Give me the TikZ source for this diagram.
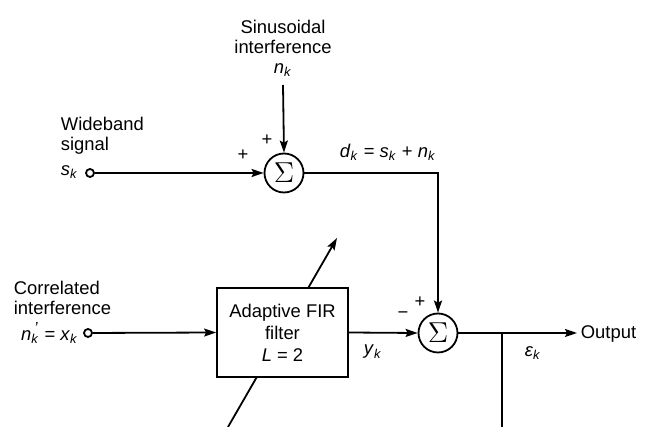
\documentclass[tikz,border=0pt]{standalone}
\usepackage{fontspec}
\setmainfont{Liberation Sans}
\usetikzlibrary{arrows.meta}
\newcommand{\vs}[2]{\textit{#1}\textsubscript{\textit{#2}}}
\begin{document}
\begin{tikzpicture}[x=0.5pt,y=-0.5pt, line width=0.9pt,
  >={Stealth[length=6pt,width=4pt,inset=1pt]},
  lbl/.style={font=\fontsize{9.2}{10}\selectfont, inner sep=0pt},
  sumnode/.style={circle,draw,minimum size=19.5pt,inner sep=0pt,fill=white,
    font=\fontsize{13.5}{13.5}\selectfont},
  port/.style={circle,draw,minimum size=4pt,inner sep=0pt,fill=white},
  blk/.style={draw,fill=white,minimum width=65.5pt,minimum height=44.5pt,
    align=center,inner sep=0pt,font=\fontsize{9.2}{11}\selectfont}]
\useasboundingbox (0,0) rectangle (645,427);
% adaptation arrow through the filter (behind it)
\coordinate (d1) at (228,427);
\coordinate (d2) at (337,238);
\draw[->] (d1) -- (d2);
% nodes
\node[sumnode] (s1) at (284,173) {$\Sigma$};
\node[sumnode] (s2) at (438,333) {$\Sigma$};
\node[blk] (fir) at (282.5,332.5) {Adaptive FIR\\filter\\\textit{L} = 2};
\node[port] (sin) at (90,173) {};
\node[port] (xin) at (88,333) {};
\coordinate (ntop) at (283,85);
\coordinate (out) at (577,333);
\coordinate (br) at (502,333);
\coordinate (brb) at (502,427);
% labels
\node[lbl,align=center] (sinlbl) at (283,48) {Sinusoidal\\interference\\\vs{n}{k}};
\node[lbl,align=left,anchor=west] (wblbl) at (60,136) {Wideband\\signal};
\node[lbl,anchor=east] (sklbl) at (79,172) {\vs{s}{k}};
\node[lbl,align=left,anchor=west] (corlbl) at (13,298) {Correlated\\interference};
\node[lbl,anchor=east] (xklbl) at (79,333) {\textit{n}\rlap{\raisebox{0.38em}{\fontsize{8}{8}\selectfont\,\textit{'}}}\textsubscript{\textit{k}} = \vs{x}{k}};
\node[lbl] (p1) at (243,155) {+};
\node[lbl] (p2) at (267,140) {+};
\node[lbl] (p3) at (420,302) {+};
\node[lbl] (m1) at (403,315) {\char"2212};
\node[lbl] (dlbl) at (388,152) {\vs{d}{k} = \vs{s}{k} + \vs{n}{k}};
\node[lbl] (ylbl) at (373,352) {\vs{y}{k}};
\node[lbl] (elbl) at (533,353) {\vs{ε}{k}};
\node[lbl,anchor=west] (outlbl) at (580,334) {Output};
% connectors
\draw[->] (ntop) -- (s1.north);
\draw[->] (sin) -- (s1.west);
\draw[->] (s1.east) -| (s2.north);
\draw[->] (xin) -- (fir.west);
\draw[->] (fir.east) -- (s2.west);
\draw[->] (s2.east) -- (out);
\draw (br) -- (brb);
\end{tikzpicture}
\end{document}
